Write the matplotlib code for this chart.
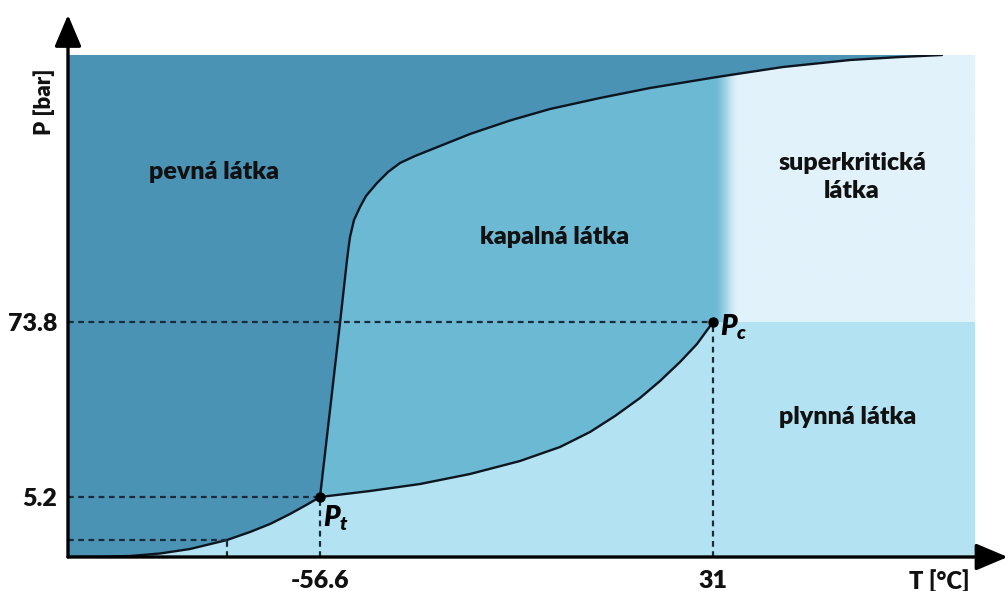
import numpy as np
import matplotlib
matplotlib.use('Agg')
import matplotlib.pyplot as plt
from matplotlib.colors import to_rgb

# schematic units (no real scale): T runs 0..907, P runs 0..502 over the plot box
subl_T = [0, 32, 62, 92, 122, 159, 182, 202, 222, 240, 252]
subl_P = [0, 0.2, 1, 3.5, 8, 17, 25, 33, 43, 53, 60]

melt_T = [252, 262, 272, 279, 280.5, 282, 286, 292, 298, 309, 320, 332, 347,
          362, 402, 442, 482, 532, 582, 649, 715, 782, 832, 874]
melt_P = [60, 147, 234, 297, 309, 320, 337, 350, 361, 374, 385, 394, 401,
          407, 423, 436.5, 448, 459, 469, 480, 490, 497, 500, 502]

vap_T = [252, 302, 352, 402, 452, 492, 522, 547, 572, 592, 612, 629, 645]
vap_P = [60, 66, 73, 83, 96, 110, 125, 141, 159, 176, 195, 213, 235]

triple = (252, 60)
critical = (645, 235)
low_ref = (159, 17)

xtick_pos = [252, 645]
xtick_lab = ['-56.6', '31']
ytick_pos = [60, 235]
ytick_lab = ['5.2', '73.8']

T_MAX, P_MAX = 907, 502

COL_SOLID = '#4b93b5'
COL_LIQUID = '#6cb9d4'
COL_GAS = '#b3e3f2'
COL_SUPER = '#e2f2fb'
COL_DASH = '#1c2b3a'
COL_TEXT = '#111111'
FAMILY = ['Lato', 'DejaVu Sans']
WEIGHT = 'heavy'

plt.rcParams['font.family'] = FAMILY
plt.rcParams['font.weight'] = WEIGHT
plt.rcParams['mathtext.fontset'] = 'custom'
plt.rcParams['mathtext.it'] = 'Lato:italic:heavy'
plt.rcParams['mathtext.rm'] = 'Lato:heavy'


def main():
    fig = plt.figure(figsize=(10.08, 5.91), dpi=100)
    ax = fig.add_axes([68 / 1008, 34 / 591, 907 / 1008, 502 / 591])
    ax.set_xlim(0, T_MAX)
    ax.set_ylim(0, P_MAX)
    ax.set_facecolor(COL_GAS)
    for s in ax.spines.values():
        s.set_visible(False)

    # supercritical block, soft edge towards the liquid region
    x0, y0 = critical
    xs = np.arange(x0, T_MAX + 1)
    t = np.clip((xs - x0) / 26.0, 0, 1)
    t = t * t * (3 - 2 * t)
    c1, c2 = np.array(to_rgb(COL_LIQUID)), np.array(to_rgb(COL_SUPER))
    grad = (c1[None, :] * (1 - t[:, None]) + c2[None, :] * t[:, None])[None, :, :]
    ax.imshow(grad, extent=(x0, T_MAX, y0, P_MAX), aspect='auto', zorder=1,
              interpolation='bilinear')

    # liquid region
    p_top = np.interp(x0, melt_T, melt_P)
    mT = [x for x in melt_T if x < x0]
    mP = melt_P[:len(mT)]
    ax.fill(mT + [x0, x0] + vap_T[::-1], mP + [p_top, y0] + vap_P[::-1],
            color=COL_LIQUID, lw=0, zorder=2)

    # solid region
    ax.fill(subl_T + melt_T[1:] + [0], subl_P + melt_P[1:] + [P_MAX],
            color=COL_SOLID, lw=0, zorder=3)

    # phase boundaries
    for T, P in [(subl_T, subl_P), (melt_T, melt_P), (vap_T, vap_P)]:
        ax.plot(T, P, color='#0d1620', lw=1.7, zorder=4,
                solid_capstyle='round', solid_joinstyle='round')

    # reference dashes
    dkw = dict(color=COL_DASH, lw=1.6, dashes=(2.6, 2.0), zorder=4)
    for px, py in [triple, critical, low_ref]:
        ax.plot([0, px], [py, py], **dkw)
        ax.plot([px, px], [0, py], **dkw)

    ax.plot(*zip(triple, critical), 'o', color='black', ms=6.5, zorder=5)
    ax.annotate(r'$P_t$', xy=triple, xytext=(2.5, -15), textcoords='offset points',
                fontsize=20, ha='left', va='center', zorder=6)
    ax.annotate(r'$P_c$', xy=critical, xytext=(5, -4), textcoords='offset points',
                fontsize=20, ha='left', va='center', zorder=6)

    # region names
    tkw = dict(fontsize=18, fontweight=WEIGHT, color=COL_TEXT, ha='center',
               va='center', zorder=6)
    ax.text(146, 385, 'pevná látka', **tkw)
    ax.text(487, 320, 'kapalná látka', **tkw)
    ax.text(784, 380, 'superkritická\nlátka', linespacing=1.3, **tkw)
    ax.text(780, 140, 'plynná látka', **tkw)

    # ticks
    ax.set_xticks(xtick_pos)
    ax.set_xticklabels(xtick_lab, fontfamily=FAMILY, fontweight=WEIGHT,
                       fontsize=18, color=COL_TEXT)
    ax.set_yticks(ytick_pos)
    ax.set_yticklabels(ytick_lab, fontfamily=FAMILY, fontweight=WEIGHT,
                       fontsize=18, color=COL_TEXT)
    ax.tick_params(length=0)
    ax.tick_params(axis='x', pad=9)
    ax.tick_params(axis='y', pad=8)

    ax.text(871, -24, 'T [°C]', fontsize=17, fontweight=WEIGHT, color=COL_TEXT,
            ha='center', va='center', clip_on=False)
    fig.text(44 / 1008, 1 - 102 / 591, 'P [bar]', fontsize=16, fontweight=WEIGHT,
             color=COL_TEXT, rotation=90, ha='center', va='center')

    # axis arrows
    akw = dict(arrowstyle='-|>,head_length=1.3,head_width=0.55', lw=2.4,
               color='black', mutation_scale=15, shrinkA=0, shrinkB=0)
    ax.annotate('', xy=(1.036, 0), xytext=(0, 0), xycoords='axes fraction',
                arrowprops=akw, annotation_clip=False, zorder=7)
    ax.annotate('', xy=(0, 1.08), xytext=(0, 0), xycoords='axes fraction',
                arrowprops=akw, annotation_clip=False, zorder=7)

    fig.savefig('out.png', dpi=100)
    plt.close(fig)


if __name__ == '__main__':
    main()
